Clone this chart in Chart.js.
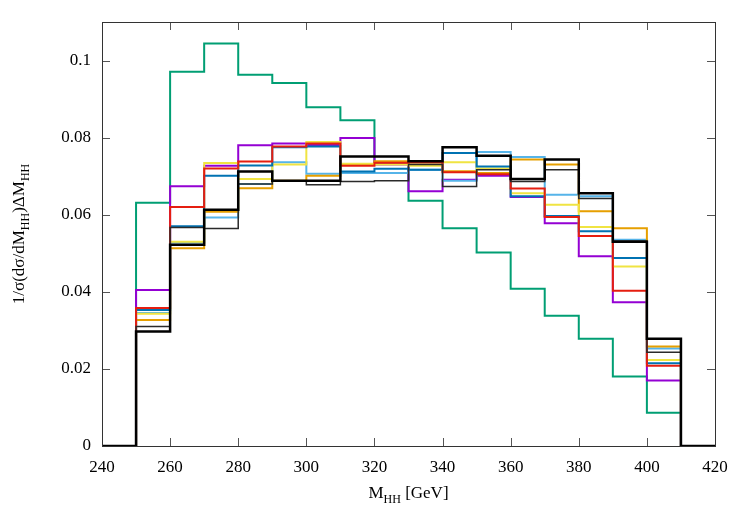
<!DOCTYPE html>
<html>
<head>
<meta charset="utf-8">
<title>M_HH distribution</title>
<script src="https://cdn.jsdelivr.net/npm/chart.js@4.4.1/dist/chart.umd.min.js"></script>
<style>
    html, body { margin: 0; padding: 0; background: #ffffff; }
    #chartBox { width: 750px; height: 525px; position: relative; }
</style>
</head>
<body>
<div id="chartBox"><canvas id="mhhChart"></canvas></div>
<script>
// Bin left edges in GeV (each bin is 10 GeV wide)
const binEdges = [250, 260, 270, 280, 290, 300, 310, 320, 330, 340, 350, 360, 370, 380, 390, 400];

// Normalised distributions, one value per bin
const blackThick = [0.0297, 0.0522, 0.0613, 0.0712, 0.0688, 0.0688, 0.0751, 0.0751, 0.0739, 0.0775, 0.0753, 0.0693, 0.0743, 0.0656, 0.0530, 0.0278];
const blackThin  = [0.0310, 0.0567, 0.0564, 0.0680, 0.0688, 0.0678, 0.0686, 0.0688, 0.0730, 0.0673, 0.0717, 0.0686, 0.0717, 0.0642, 0.0532, 0.0243];
const redSeries  = [0.0358, 0.0620, 0.0720, 0.0738, 0.0777, 0.0785, 0.0727, 0.0735, 0.0736, 0.0710, 0.0705, 0.0668, 0.0594, 0.0545, 0.0403, 0.0208];
const blueSeries = [0.0353, 0.0570, 0.0701, 0.0728, 0.0775, 0.0777, 0.0712, 0.0719, 0.0717, 0.0760, 0.0725, 0.0648, 0.0597, 0.0557, 0.0488, 0.0215];
const yellowSeries = [0.0343, 0.0530, 0.0734, 0.0693, 0.0730, 0.0789, 0.0732, 0.0730, 0.0727, 0.0736, 0.0720, 0.0656, 0.0626, 0.0568, 0.0466, 0.0223];
const orangeSeries = [0.0327, 0.0513, 0.0608, 0.0669, 0.0688, 0.0701, 0.0730, 0.0739, 0.0730, 0.0713, 0.0708, 0.0743, 0.0730, 0.0609, 0.0565, 0.0258];
const skySeries  = [0.0345, 0.0528, 0.0593, 0.0680, 0.0736, 0.0706, 0.0708, 0.0708, 0.0717, 0.0688, 0.0763, 0.0750, 0.0652, 0.0648, 0.0535, 0.0253];
const purpleSeries = [0.0405, 0.0674, 0.0727, 0.0780, 0.0785, 0.0781, 0.0799, 0.0730, 0.0661, 0.0691, 0.0701, 0.0646, 0.0578, 0.0492, 0.0373, 0.0170];
const greenSeries = [0.0631, 0.0971, 0.1044, 0.0963, 0.0942, 0.0879, 0.0845, 0.0735, 0.0636, 0.0565, 0.0502, 0.0408, 0.0338, 0.0278, 0.0180, 0.0086];

// Axis ticks
const xTicks = [240, 260, 280, 300, 320, 340, 360, 380, 400, 420];
const yTicks = [0, 0.02, 0.04, 0.06, 0.08, 0.1];

const FONT = "'Liberation Serif', 'DejaVu Serif', serif";

/**
 * Turn a list of bin contents into step points (empty bins on both sides)
 * @param {number[]} values - bin contents
 * @returns {{x:number,y:number}[]}
 */
function toHistogram(values) {
    const pts = [{ x: 240, y: 0 }];
    binEdges.forEach((edge, i) => pts.push({ x: edge, y: values[i] }));
    pts.push({ x: 410, y: 0 });
    pts.push({ x: 420, y: 0 });
    return pts;
}

function histDataset(label, values, color, width) {
    return {
        label: label,
        data: toHistogram(values),
        borderColor: color,
        backgroundColor: color,
        borderWidth: width,
        stepped: 'before',
        pointRadius: 0,
        fill: false
    };
}

/**
 * Draws the frame, inward tick marks and the two axis titles (with subscripts)
 */
const framePlugin = {
    id: 'frame',
    afterDatasetsDraw(chart) {
        const ctx = chart.ctx;
        const area = chart.chartArea;
        const xs = chart.scales.x;
        const ys = chart.scales.y;
        ctx.save();

        // inward ticks
        ctx.strokeStyle = '#555555';
        ctx.lineWidth = 1;
        ctx.beginPath();
        xTicks.forEach(v => {
            const px = Math.round(xs.getPixelForValue(v)) + 0.5;
            ctx.moveTo(px, area.bottom);
            ctx.lineTo(px, area.bottom - 8);
            ctx.moveTo(px, area.top);
            ctx.lineTo(px, area.top + 8);
        });
        yTicks.forEach(v => {
            const py = Math.round(ys.getPixelForValue(v)) + 0.5;
            ctx.moveTo(area.left, py);
            ctx.lineTo(area.left + 8, py);
            ctx.moveTo(area.right, py);
            ctx.lineTo(area.right - 8, py);
        });
        ctx.stroke();

        // frame
        ctx.strokeStyle = '#333333';
        ctx.lineWidth = 1;
        ctx.strokeRect(area.left + 0.5, area.top + 0.5, area.right - area.left, area.bottom - area.top);

        ctx.fillStyle = '#000000';
        ctx.textBaseline = 'alphabetic';

        // x title: M_HH [GeV]
        const xParts = [['M', 17, 0], ['HH', 12, 5], [' [GeV]', 17, 0]];
        drawParts(ctx, xParts, (area.left + area.right) / 2, 498);

        // y title rotated: 1/σ(dσ/dM_HH)ΔM_HH
        ctx.translate(24, (area.top + area.bottom) / 2);
        ctx.rotate(-Math.PI / 2);
        const yParts = [['1/σ(dσ/dM', 17, 0], ['HH', 12, 5], [')ΔM', 17, 0], ['HH', 12, 5]];
        drawParts(ctx, yParts, 0, 0);
        ctx.restore();
    }
};

function drawParts(ctx, parts, cx, baseY) {
    let total = 0;
    parts.forEach(p => {
        ctx.font = p[1] + 'px ' + FONT;
        total += ctx.measureText(p[0]).width;
    });
    let x = cx - total / 2;
    ctx.textAlign = 'left';
    parts.forEach(p => {
        ctx.font = p[1] + 'px ' + FONT;
        ctx.fillText(p[0], x, baseY + p[2]);
        x += ctx.measureText(p[0]).width;
    });
}

function renderChart() {
    const canvas = document.getElementById('mhhChart');
    new Chart(canvas, {
        type: 'line',
        data: {
            datasets: [
                histDataset('black', blackThick, '#000000', 2.5),
                histDataset('black 2', blackThin, '#2a2a2a', 1.5),
                histDataset('red', redSeries, '#e51e10', 2),
                histDataset('blue', blueSeries, '#0072b2', 2),
                histDataset('yellow', yellowSeries, '#f0e442', 2),
                histDataset('orange', orangeSeries, '#e69f00', 2),
                histDataset('light blue', skySeries, '#56b4e9', 2),
                histDataset('purple', purpleSeries, '#9400d3', 2),
                histDataset('green', greenSeries, '#009e73', 2)
            ]
        },
        options: {
            responsive: true,
            maintainAspectRatio: false,
            animation: false,
            layout: { padding: { left: 0, right: 35, top: 22, bottom: 0 } },
            scales: {
                x: {
                    type: 'linear',
                    min: 240,
                    max: 420,
                    afterBuildTicks: axis => { axis.ticks = xTicks.map(v => ({ value: v })); },
                    afterFit: axis => { axis.height = 79; },
                    grid: { display: false, drawTicks: false },
                    border: { display: false },
                    ticks: {
                        padding: 11,
                        color: '#000000',
                        font: { family: FONT, size: 17 },
                        maxRotation: 0
                    }
                },
                y: {
                    type: 'linear',
                    min: 0,
                    max: 0.11,
                    afterBuildTicks: axis => { axis.ticks = yTicks.map(v => ({ value: v })); },
                    afterFit: axis => { axis.width = 102; },
                    grid: { display: false, drawTicks: false },
                    border: { display: false },
                    ticks: {
                        padding: 11,
                        color: '#000000',
                        font: { family: FONT, size: 17 },
                        callback: v => String(Number(v.toFixed(2)))
                    }
                }
            },
            plugins: {
                legend: { display: false },
                tooltip: { enabled: false }
            }
        },
        plugins: [framePlugin]
    });
}

renderChart();
</script>
</body>
</html>
